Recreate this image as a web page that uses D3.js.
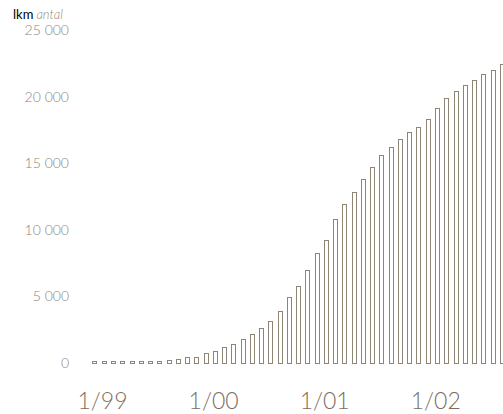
<!DOCTYPE html>
<html><head><meta charset="utf-8">
<script src="https://cdn.jsdelivr.net/npm/d3@7"></script>
<style>
html,body{margin:0;padding:0;background:#fff;}
svg{display:block;}
text{font-family:Lato,"Open Sans",sans-serif;}
</style></head>
<body>
<script>
const months = d3.range(45).map(i => {
  const y = 1999 + Math.floor(i / 12), m = i % 12 + 1;
  return m + "/" + String(y).slice(2);
});
const values = [200,200,200,200,200,200,200,230,280,350,500,550,
  800,950,1250,1500,1850,2240,2700,3210,3980,5010,5880,7060,
  8360,9310,10860,11990,12890,13890,14810,15690,16270,16890,17420,17790,
  18420,19200,19950,20470,20970,21350,21750,22100,22500];
const yTicks = [0,5000,10000,15000,20000,25000];
const xTickLabels = ["1/99","1/00","1/01","1/02"];

const W = 503, H = 414;
const svg = d3.select("body").append("svg").attr("width", W).attr("height", H);

const x = d3.scaleBand().domain(months).range([90.37, 90.37 + 45 * 9.257])
  .paddingInner(0.46).paddingOuter(0.23);
const y = d3.scaleLinear().domain([0, 25000]).range([364, 31]);

const fmt = v => d3.format(",")(v).replace(/,/g, " ");

// y labels
svg.append("g").selectAll("text").data(yTicks).join("text")
  .attr("x", 69).attr("y", d => y(d) - 1.5)
  .attr("text-anchor", "end").attr("dominant-baseline", "central")
  .attr("font-size", 14).attr("font-weight", 300).attr("fill", "#8f8576")
  .text(fmt);

// title
const t = svg.append("text").attr("x", 13).attr("y", 19).attr("font-size", 13);
t.append("tspan").attr("fill", "#000").attr("font-weight", 400).text("lkm");
t.append("tspan").attr("fill", "#958b7c").attr("font-style", "italic").attr("font-weight", 300).attr("dx", 3).text("antal");

// bars
svg.append("g").selectAll("rect").data(values).join("rect")
  .attr("x", (d, i) => Math.round(x(months[i])) + 0.5)
  .attr("y", d => Math.round(y(d)) + 0.5)
  .attr("width", Math.round(x.bandwidth()) - 1)
  .attr("height", d => Math.max(1, 364 - Math.round(y(d)) - 1))
  .attr("fill", "#fff").attr("stroke", "#8f8575").attr("stroke-width", 1);

// x labels
svg.append("g").selectAll("text").data(xTickLabels).join("text")
  .attr("x", d => x(d) + x.bandwidth() / 2 + 7.5)
  .attr("y", 409)
  .attr("text-anchor", "middle")
  .attr("font-size", 23).attr("font-weight", 300).attr("fill", "#7a6e5e")
  .text(d => d);
</script>
</body></html>
